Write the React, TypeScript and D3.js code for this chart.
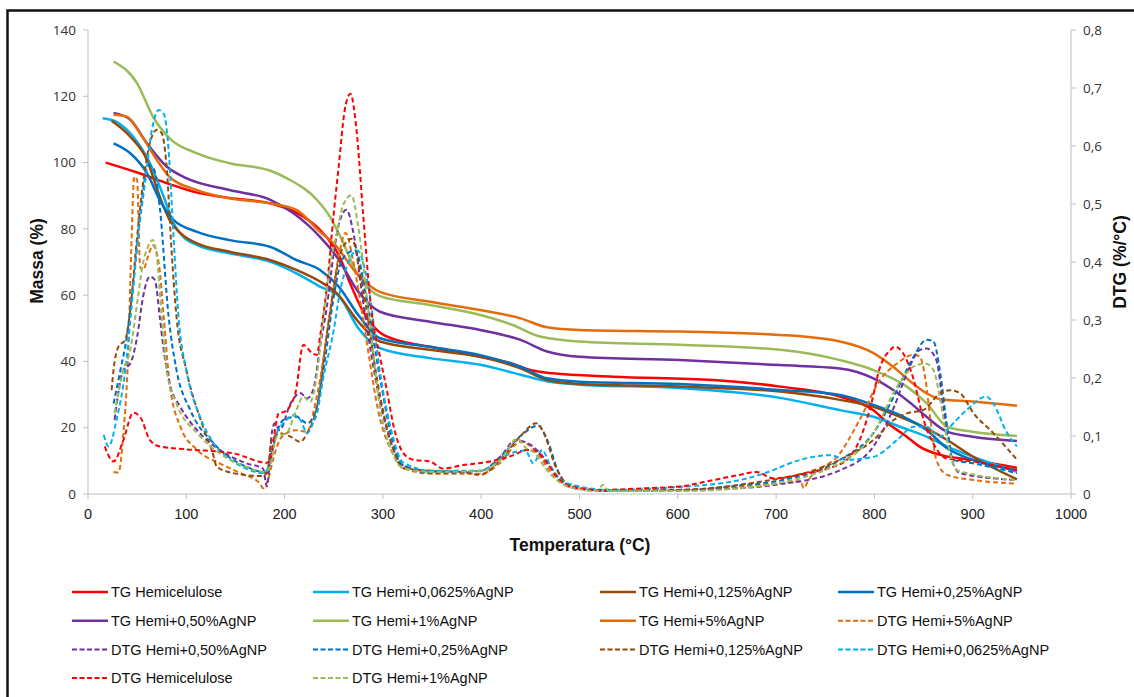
import React from "react";
import * as d3 from "d3";

// ---------- data (temperature in °C, TG in %, DTG in %/°C) ----------
const T_TG_HEMI = [18, 50, 83, 110, 144, 188, 219, 236, 250, 256, 266, 280, 297, 320, 348, 399, 430, 450, 473, 534, 636, 704, 765, 799, 816, 833, 846, 867, 900, 945];
const TG_HEMI = [100, 97, 93.5, 91, 89.3, 87.5, 83.7, 79.7, 74.6, 71.6, 64, 55, 48.7, 46, 44.4, 41.4, 39.5, 37.4, 36.4, 35.4, 34.4, 32.4, 29.4, 25.3, 20.8, 17.3, 14.3, 11.8, 10.3, 7.9];

const T_TG_00625 = [15, 29, 46, 63, 77, 87, 97, 111, 144, 185, 212, 236, 256, 275, 297, 348, 399, 440, 467, 500, 602, 704, 765, 799, 826, 853, 874, 900, 945];
const TG_00625 = [113.4, 112.3, 107.8, 99.8, 89.7, 81.7, 77.6, 75.1, 72.6, 70.1, 66.6, 62.6, 59.5, 50, 44, 41, 39, 36, 34, 33, 32, 29, 25.3, 23.3, 20.3, 17.3, 14.3, 11.3, 6.7];

const T_TG_0125 = [24, 43, 60, 73, 83, 94, 111, 144, 185, 212, 236, 253, 275, 297, 348, 399, 440, 467, 500, 602, 704, 765, 799, 826, 853, 874, 900, 945];
const TG_0125 = [112.6, 107.8, 100.8, 89.7, 82.7, 78.7, 75.6, 73.1, 70.6, 67.6, 64.1, 60.6, 52, 46, 43.5, 41.4, 37.9, 34.4, 33.2, 32.4, 30.9, 28.4, 26.3, 23.3, 19.8, 16.3, 11.3, 4.4];

const T_TG_025 = [26, 43, 60, 73, 87, 111, 144, 185, 212, 236, 255, 275, 297, 348, 399, 440, 467, 500, 602, 704, 765, 799, 826, 853, 874, 900, 945];
const TG_025 = [105.8, 102.8, 96.8, 88.7, 82.7, 79.1, 76.6, 74.6, 70.6, 67.6, 62.6, 54, 47, 44.4, 41.9, 38.4, 34.9, 33.9, 33.2, 31.4, 29.9, 26.9, 23.8, 19.3, 13.8, 10.3, 7.2];

const T_TG_050 = [26, 43, 60, 80, 100, 144, 185, 209, 236, 253, 275, 297, 348, 399, 440, 467, 500, 602, 704, 765, 799, 819, 839, 853, 874, 900, 945];
const TG_050 = [115, 112.9, 105.8, 98.8, 95.3, 91.7, 88.8, 84.7, 77.6, 71.6, 61, 55, 52, 49.5, 46.5, 43, 41.4, 40.4, 38.9, 37.9, 34.9, 31.4, 26.9, 23.3, 18.8, 17.3, 16];

const T_TG_1 = [26, 50, 66, 83, 111, 144, 185, 202, 233, 246, 255, 275, 297, 348, 399, 432, 460, 500, 602, 704, 765, 799, 833, 853, 874, 900, 945];
const TG_1 = [130.5, 123.9, 113.9, 107.3, 102.8, 99.8, 97.6, 95.3, 88.7, 83.7, 78.7, 66, 59.7, 57, 54, 51, 47.5, 46, 45, 43.5, 40.4, 37.4, 32.4, 27.4, 20.3, 18.8, 17.5];

const T_TG_5 = [26, 39, 53, 70, 83, 111, 144, 185, 212, 236, 250, 275, 297, 348, 399, 440, 467, 500, 602, 704, 765, 799, 819, 839, 853, 867, 900, 945];
const TG_5 = [114.4, 113.9, 108.8, 100.8, 95.7, 91.7, 89.2, 87.7, 85.7, 79.1, 75.6, 66, 61, 58, 55.5, 53, 50.3, 49.5, 49, 48, 46, 42.5, 38.4, 33.4, 30.4, 28.6, 27.9, 26.6];

const T_DTG_5 = [26, 31, 36, 41, 44, 47, 50, 53, 56, 61, 66, 72, 77, 83, 94, 111, 134, 155, 175, 178, 183, 189, 195, 202, 212, 223, 229, 236, 246, 255, 262, 270, 280, 297, 310, 320, 350, 400, 420, 440, 455, 470, 490, 530, 600, 663, 700, 725, 728, 733, 765, 785, 806, 823, 840, 846, 852, 857, 863, 874, 901, 945];
const DTG_5 = [0.038, 0.037, 0.105, 0.248, 0.42, 0.547, 0.541, 0.392, 0.386, 0.409, 0.429, 0.398, 0.306, 0.191, 0.116, 0.076, 0.053, 0.036, 0.018, 0.01, 0.024, 0.064, 0.093, 0.105, 0.11, 0.107, 0.139, 0.197, 0.31, 0.41, 0.45, 0.4, 0.3, 0.13, 0.07, 0.045, 0.035, 0.035, 0.055, 0.09, 0.075, 0.04, 0.012, 0.005, 0.006, 0.013, 0.018, 0.022, 0.01, 0.024, 0.07, 0.128, 0.197, 0.225, 0.24, 0.237, 0.197, 0.128, 0.059, 0.033, 0.024, 0.018];

const T_DTG_050 = [27, 36, 43, 50, 56, 63, 68, 73, 77, 83, 94, 111, 134, 161, 178, 182, 187, 190, 195, 206, 216, 223, 229, 236, 243, 250, 256, 263, 270, 280, 297, 310, 320, 350, 400, 420, 435, 450, 465, 480, 495, 530, 600, 663, 700, 765, 799, 820, 833, 846, 853, 863, 870, 877, 887, 945];
const DTG_050 = [0.128, 0.214, 0.225, 0.271, 0.34, 0.375, 0.369, 0.306, 0.248, 0.191, 0.15, 0.11, 0.076, 0.053, 0.044, 0.013, 0.105, 0.122, 0.11, 0.156, 0.174, 0.165, 0.179, 0.254, 0.323, 0.415, 0.47, 0.49, 0.45, 0.33, 0.16, 0.08, 0.05, 0.038, 0.04, 0.065, 0.093, 0.085, 0.06, 0.025, 0.01, 0.006, 0.007, 0.01, 0.016, 0.041, 0.082, 0.15, 0.208, 0.248, 0.251, 0.231, 0.15, 0.07, 0.036, 0.024];

const T_DTG_025 = [26, 33, 39, 46, 53, 61, 67, 73, 82, 90, 104, 128, 161, 182, 187, 192, 199, 212, 223, 231, 239, 250, 256, 264, 272, 282, 297, 310, 320, 350, 400, 420, 440, 458, 468, 478, 492, 530, 600, 663, 700, 765, 799, 823, 840, 853, 860, 867, 874, 880, 900, 945];
const DTG_025 = [0.156, 0.214, 0.266, 0.363, 0.478, 0.567, 0.56, 0.495, 0.306, 0.214, 0.145, 0.087, 0.047, 0.037, 0.07, 0.105, 0.128, 0.133, 0.122, 0.139, 0.208, 0.34, 0.392, 0.415, 0.42, 0.35, 0.2, 0.09, 0.05, 0.036, 0.04, 0.065, 0.1, 0.118, 0.09, 0.04, 0.012, 0.005, 0.006, 0.015, 0.022, 0.059, 0.105, 0.179, 0.237, 0.266, 0.263, 0.208, 0.116, 0.059, 0.053, 0.036];

const T_DTG_0125 = [24, 26, 31, 38, 43, 50, 56, 63, 70, 75, 80, 85, 90, 100, 117, 127, 131, 148, 175, 182, 187, 195, 206, 216, 223, 233, 245, 258, 268, 280, 297, 310, 320, 350, 380, 399, 420, 440, 456, 465, 475, 490, 530, 600, 663, 765, 799, 820, 833, 850, 867, 877, 887, 901, 921, 945];
const DTG_0125 = [0.179, 0.214, 0.254, 0.266, 0.317, 0.444, 0.536, 0.605, 0.628, 0.622, 0.564, 0.42, 0.306, 0.214, 0.116, 0.07, 0.047, 0.036, 0.031, 0.036, 0.093, 0.105, 0.099, 0.09, 0.105, 0.15, 0.3, 0.42, 0.44, 0.35, 0.17, 0.08, 0.045, 0.04, 0.038, 0.033, 0.06, 0.1, 0.122, 0.1, 0.05, 0.015, 0.006, 0.007, 0.016, 0.059, 0.093, 0.128, 0.139, 0.145, 0.174, 0.179, 0.174, 0.139, 0.105, 0.059];

const T_DTG_00625 = [16, 21, 29, 38, 44, 51, 58, 65, 72, 77, 82, 87, 92, 100, 114, 128, 145, 161, 178, 185, 192, 199, 209, 216, 223, 229, 233, 239, 250, 256, 265, 274, 285, 297, 310, 320, 350, 400, 430, 445, 453, 462, 470, 485, 530, 600, 663, 697, 714, 738, 755, 772, 799, 823, 840, 853, 867, 877, 894, 914, 921, 935, 945];
const DTG_00625 = [0.102, 0.082, 0.128, 0.214, 0.317, 0.444, 0.536, 0.628, 0.662, 0.656, 0.593, 0.444, 0.306, 0.214, 0.133, 0.087, 0.059, 0.044, 0.036, 0.053, 0.105, 0.122, 0.136, 0.128, 0.105, 0.122, 0.139, 0.197, 0.283, 0.346, 0.4, 0.42, 0.36, 0.21, 0.1, 0.055, 0.04, 0.04, 0.07, 0.075, 0.053, 0.076, 0.05, 0.02, 0.007, 0.012, 0.024, 0.041, 0.053, 0.064, 0.067, 0.059, 0.064, 0.093, 0.116, 0.116, 0.099, 0.116, 0.145, 0.168, 0.156, 0.105, 0.082];

const T_DTG_HEMI = [17, 26, 36, 46, 53, 63, 73, 100, 148, 182, 185, 194, 200, 211, 219, 228, 233, 236, 243, 250, 255, 261, 267, 273, 280, 288, 297, 304, 311, 321, 331, 348, 361, 382, 409, 433, 446, 456, 467, 477, 490, 518, 568, 602, 636, 663, 680, 697, 731, 758, 772, 785, 796, 806, 816, 821, 829, 840, 850, 860, 874, 901, 945];
const DTG_HEMI = [0.082, 0.056, 0.093, 0.14, 0.133, 0.093, 0.082, 0.077, 0.07, 0.054, 0.059, 0.139, 0.142, 0.174, 0.257, 0.243, 0.24, 0.271, 0.357, 0.484, 0.564, 0.66, 0.69, 0.63, 0.48, 0.32, 0.237, 0.179, 0.116, 0.07, 0.059, 0.056, 0.044, 0.05, 0.056, 0.067, 0.076, 0.073, 0.053, 0.03, 0.013, 0.007, 0.01, 0.013, 0.024, 0.033, 0.038, 0.027, 0.036, 0.047, 0.059, 0.093, 0.15, 0.22, 0.248, 0.254, 0.243, 0.197, 0.128, 0.087, 0.061, 0.056, 0.041];

const T_DTG_1 = [27, 36, 43, 50, 56, 61, 66, 70, 75, 80, 90, 111, 134, 161, 180, 185, 192, 202, 212, 219, 226, 233, 239, 246, 253, 260, 268, 275, 285, 297, 310, 320, 350, 400, 420, 437, 445, 455, 465, 480, 500, 518, 524, 530, 600, 663, 765, 799, 823, 840, 852, 860, 867, 874, 884, 945];
const DTG_1 = [0.139, 0.214, 0.248, 0.329, 0.398, 0.426, 0.438, 0.409, 0.306, 0.214, 0.156, 0.105, 0.07, 0.047, 0.038, 0.047, 0.099, 0.105, 0.145, 0.168, 0.159, 0.208, 0.3, 0.392, 0.449, 0.5, 0.515, 0.46, 0.32, 0.15, 0.07, 0.045, 0.038, 0.04, 0.06, 0.095, 0.08, 0.07, 0.045, 0.02, 0.008, 0.005, 0.016, 0.005, 0.005, 0.01, 0.053, 0.105, 0.185, 0.22, 0.225, 0.214, 0.162, 0.093, 0.041, 0.024];

const X_TICKS = [0, 100, 200, 300, 400, 500, 600, 700, 800, 900, 1000];
const Y_LEFT_TICKS = [0, 20, 40, 60, 80, 100, 120, 140];
const Y_RIGHT_TICKS = [0, 0.1, 0.2, 0.3, 0.4, 0.5, 0.6, 0.7, 0.8];

const COLORS = {
  hemi: "#FF0000",
  c00625: "#00B0F0",
  c0125: "#984807",
  c025: "#0070C0",
  c050: "#7030A0",
  c1: "#9BBB59",
  c5: "#E46C0A",
};

type Series = { label: string; t: number[]; v: number[]; color: string; dtg: boolean };

const SERIES: Series[] = [
  { label: "TG Hemicelulose", t: T_TG_HEMI, v: TG_HEMI, color: COLORS.hemi, dtg: false },
  { label: "TG Hemi+0,0625%AgNP", t: T_TG_00625, v: TG_00625, color: COLORS.c00625, dtg: false },
  { label: "TG Hemi+0,125%AgNP", t: T_TG_0125, v: TG_0125, color: COLORS.c0125, dtg: false },
  { label: "TG Hemi+0,25%AgNP", t: T_TG_025, v: TG_025, color: COLORS.c025, dtg: false },
  { label: "TG Hemi+0,50%AgNP", t: T_TG_050, v: TG_050, color: COLORS.c050, dtg: false },
  { label: "TG Hemi+1%AgNP", t: T_TG_1, v: TG_1, color: COLORS.c1, dtg: false },
  { label: "TG Hemi+5%AgNP", t: T_TG_5, v: TG_5, color: COLORS.c5, dtg: false },
  { label: "DTG Hemi+5%AgNP", t: T_DTG_5, v: DTG_5, color: COLORS.c5, dtg: true },
  { label: "DTG Hemi+0,50%AgNP", t: T_DTG_050, v: DTG_050, color: COLORS.c050, dtg: true },
  { label: "DTG Hemi+0,25%AgNP", t: T_DTG_025, v: DTG_025, color: COLORS.c025, dtg: true },
  { label: "DTG Hemi+0,125%AgNP", t: T_DTG_0125, v: DTG_0125, color: COLORS.c0125, dtg: true },
  { label: "DTG Hemi+0,0625%AgNP", t: T_DTG_00625, v: DTG_00625, color: COLORS.c00625, dtg: true },
  { label: "DTG Hemicelulose", t: T_DTG_HEMI, v: DTG_HEMI, color: COLORS.hemi, dtg: true },
  { label: "DTG Hemi+1%AgNP", t: T_DTG_1, v: DTG_1, color: COLORS.c1, dtg: true },
];

const W = 1134;
const H = 697;
const PLOT = { left: 88, right: 1071, top: 30, bottom: 494 };
const AXIS_COLOR = "#BFBFBF";
const TICK_FONT = "'Open Sans', 'Liberation Sans', Arial, sans-serif";
const ARIAL = "'Liberation Sans', Arial, sans-serif";

export default function App() {
  const x = d3.scaleLinear().domain([0, 1000]).range([PLOT.left, PLOT.right]);
  const yL = d3.scaleLinear().domain([0, 140]).range([PLOT.bottom, PLOT.top]);
  const yR = d3.scaleLinear().domain([0, 0.8]).range([PLOT.bottom, PLOT.top]);

  const makePath = (s: Series) => {
    const ys = s.dtg ? yR : yL;
    const pts: [number, number][] = s.t.map((t, i) => [t, s.v[i]]);
    return d3
      .line<[number, number]>()
      .x((d) => x(d[0]))
      .y((d) => ys(d[1]))
      .curve(d3.curveMonotoneX)(pts) as string;
  };

  const fmtR = (v: number) => (v === 0 ? "0" : d3.format(".1f")(v).replace(".", ","));

  const legendCols = [72, 313, 600, 838];
  const legendRowY = (r: number) => 592 + r * 28.7;

  return (
    <svg
      width={W}
      height={H}
      style={{ position: "absolute", left: 0, top: 0, background: "#fff" }}
      xmlns="http://www.w3.org/2000/svg"
    >
      <rect x={0} y={0} width={W} height={H} fill="#fff" />
      <rect x={7.5} y={10.5} width={W + 20} height={H + 20} fill="none" stroke="#111" strokeWidth={2.5} />

      {/* axes */}
      <line x1={PLOT.left} x2={PLOT.left} y1={PLOT.top} y2={PLOT.bottom} stroke={AXIS_COLOR} strokeWidth={1} />
      <line x1={PLOT.right} x2={PLOT.right} y1={PLOT.top} y2={PLOT.bottom} stroke={AXIS_COLOR} strokeWidth={1} />
      <line x1={PLOT.left} x2={PLOT.right} y1={PLOT.bottom} y2={PLOT.bottom} stroke={AXIS_COLOR} strokeWidth={1} />

      {Y_LEFT_TICKS.map((v) => (
        <g key={"yl" + v}>
          <line x1={PLOT.left - 5} x2={PLOT.left} y1={yL(v)} y2={yL(v)} stroke={AXIS_COLOR} />
          <text x={76} y={yL(v)} dy="0.35em" textAnchor="end" fontFamily={TICK_FONT} fontSize={13.5} fill="#333">
            {v}
          </text>
        </g>
      ))}
      {Y_RIGHT_TICKS.map((v) => (
        <g key={"yr" + v}>
          <line x1={PLOT.right} x2={PLOT.right + 5} y1={yR(v)} y2={yR(v)} stroke={AXIS_COLOR} />
          <text x={1083} y={yR(v)} dy="0.35em" textAnchor="start" fontFamily={TICK_FONT} fontSize={13.5} fill="#333">
            {fmtR(v)}
          </text>
        </g>
      ))}
      {X_TICKS.map((v) => (
        <g key={"x" + v}>
          <line x1={x(v)} x2={x(v)} y1={PLOT.bottom} y2={PLOT.bottom + 5} stroke={AXIS_COLOR} />
          <text x={x(v)} y={519} textAnchor="middle" fontFamily={ARIAL} fontSize={14.5} fill="#222">
            {v}
          </text>
        </g>
      ))}

      {/* axis titles */}
      <text
        transform={`translate(43, 261) rotate(-90)`}
        textAnchor="middle"
        fontFamily={ARIAL}
        fontWeight="bold"
        fontSize={17.5}
        fill="#111"
      >
        Massa (%)
      </text>
      <text
        transform={`translate(1126, 262) rotate(-90)`}
        textAnchor="middle"
        fontFamily={ARIAL}
        fontWeight="bold"
        fontSize={17.5}
        fill="#111"
      >
        DTG (%/°C)
      </text>
      <text x={580} y={551} textAnchor="middle" fontFamily={ARIAL} fontWeight="bold" fontSize={17.5} fill="#111">
        Temperatura (°C)
      </text>

      {/* series */}
      {SERIES.map((s) => (
        <path
          key={s.label}
          d={makePath(s)}
          fill="none"
          stroke={s.color}
          strokeWidth={s.dtg ? 2 : 2.5}
          strokeDasharray={s.dtg ? "5,3" : undefined}
          strokeLinejoin="round"
        />
      ))}

      {/* legend */}
      {SERIES.map((s, i) => {
        const col = i % 4;
        const row = Math.floor(i / 4);
        const lx = legendCols[col];
        const ly = legendRowY(row);
        return (
          <g key={"lg" + s.label}>
            <line
              x1={lx}
              x2={lx + 36}
              y1={ly}
              y2={ly}
              stroke={s.color}
              strokeWidth={s.dtg ? 2 : 2.5}
              strokeDasharray={s.dtg ? "5,2.5" : undefined}
            />
            <text x={lx + 39} y={ly} dy="0.36em" fontFamily={ARIAL} fontSize={14.5} fill="#111">
              {s.label}
            </text>
          </g>
        );
      })}
    </svg>
  );
}
